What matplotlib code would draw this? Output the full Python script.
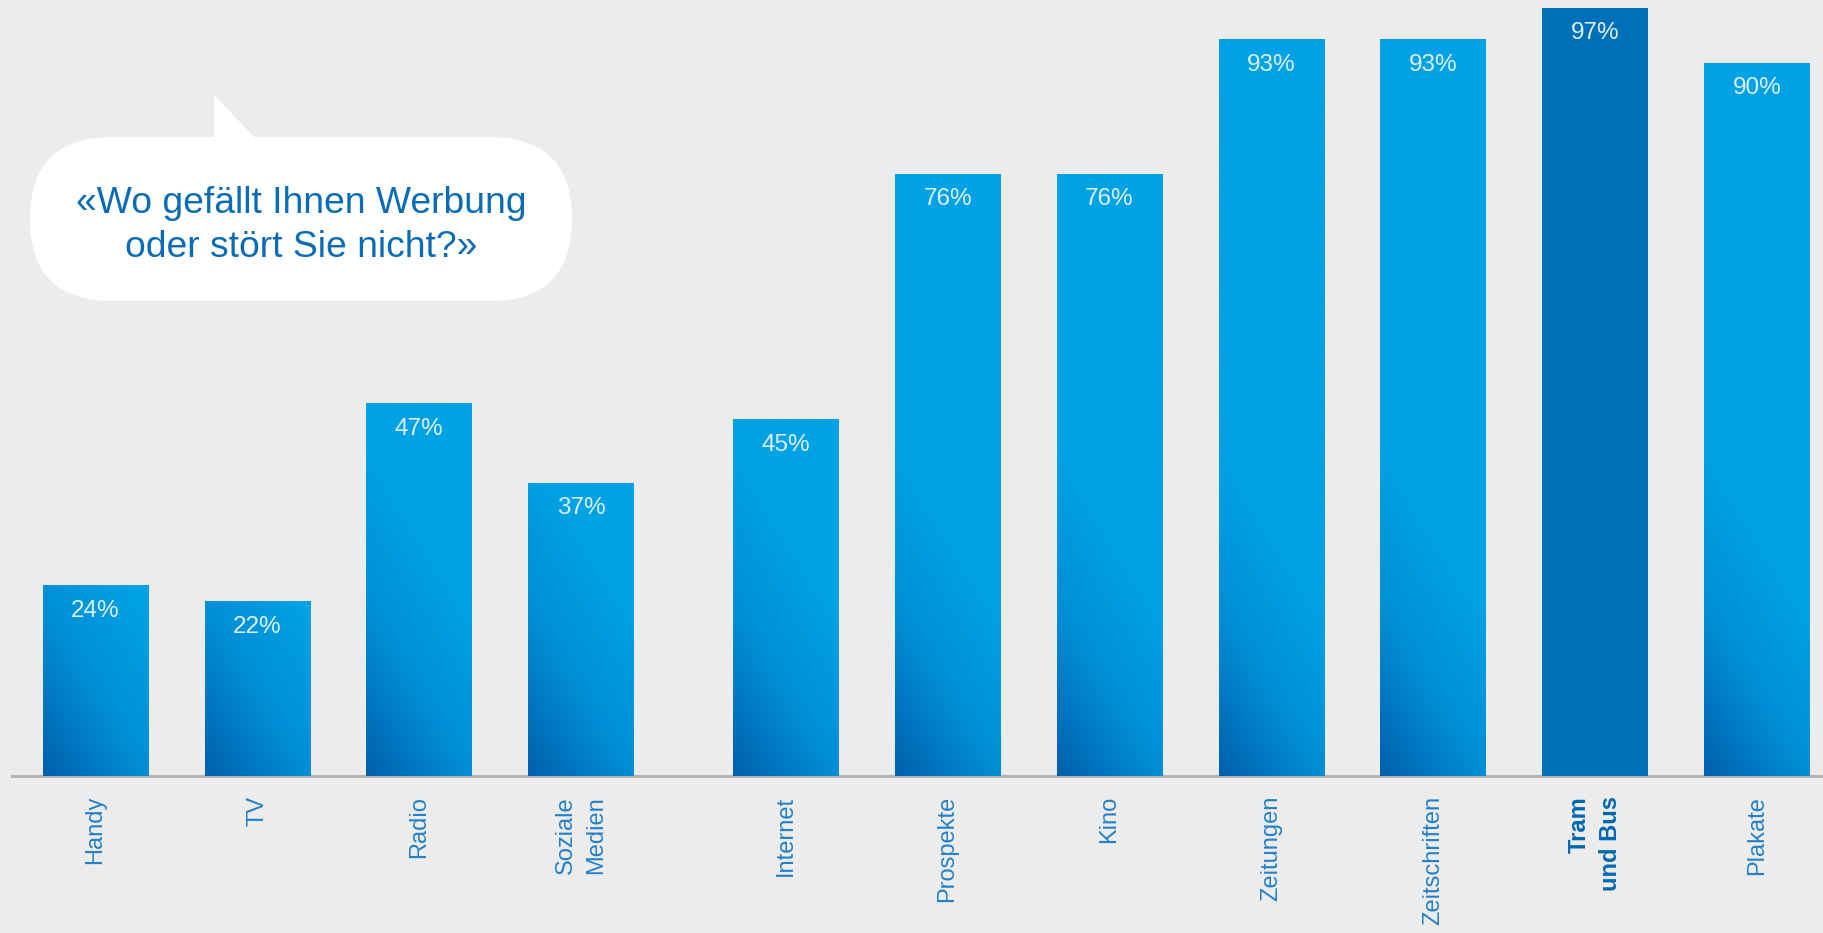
import numpy as np
import matplotlib
matplotlib.use('Agg')
import matplotlib.pyplot as plt
from matplotlib.colors import LinearSegmentedColormap
from matplotlib.patches import FancyBboxPatch, Polygon

plt.rcParams['font.family'] = ['Liberation Sans', 'DejaVu Sans']

# Daten
categories = ['Handy', 'TV', 'Radio', 'Soziale\nMedien', 'Internet', 'Prospekte',
              'Kino', 'Zeitungen', 'Zeitschriften', 'Tram\nund Bus', 'Plakate']
values = [24, 22, 47, 37, 45, 76, 76, 93, 93, 97, 90]
highlight = 'Tram\nund Bus'
question = ['«Wo gefällt Ihnen Werbung', 'oder stört Sie nicht?»']

bg = '#ececec'
fig = plt.figure(figsize=(18.24, 9.33), dpi=100, facecolor=bg)
ax = fig.add_axes([12 / 1824, 157 / 933, 1 - 12 / 1824, 776 / 933])
ax.set_facecolor(bg)

idx = np.arange(len(values))
x = idx * 0.999 + np.where(idx >= 4, 0.265, 0.0)   # Luecke nach "Soziale Medien"
w = 0.65
bars = ax.bar(x, values, width=w, color='none', edgecolor='none', zorder=2)

# Verlauf unten links dunkel -> oben rechts hell
cmap = LinearSegmentedColormap.from_list('blau', ['#0060ad', '#008ed5', '#00a2e5'])
for rect, cat in zip(bars, categories):
    x0, h = rect.get_x(), rect.get_height()
    if cat == highlight:
        rect.set_facecolor('#006fba')
        continue
    xx, yy = np.meshgrid(np.linspace(0, 1, 40), np.linspace(0, h, 300))
    t = np.clip(0.5 * xx + yy / 42.0, 0, 1)
    ax.imshow(t, extent=[x0, x0 + w, 0, h], origin='lower', cmap=cmap,
              vmin=0, vmax=1, aspect='auto', zorder=2, interpolation='bilinear')

for xi, v in zip(x, values):
    ax.annotate(f'{v}%', xy=(xi, v), xytext=(0, -25), textcoords='offset pixels',
                ha='center', va='center', color='#dcf0fa', fontsize=17.5, zorder=3)

for xi, cat in zip(x, categories):
    bold = cat == highlight
    ax.annotate(cat, xy=(xi, 0), xytext=(0, -20), textcoords='offset pixels',
                rotation=90, ha='center', va='top', multialignment='right',
                linespacing=1.45,
                fontsize=17, fontweight='bold' if bold else 'normal',
                color='#0068b2' if bold else '#2381c9', annotation_clip=False)

ax.set_xlim(-0.515, 10.67)
ax.set_ylim(0, 98)
for s in ['top', 'right', 'left']:
    ax.spines[s].set_visible(False)
ax.spines['bottom'].set_color('#b5b5b5')
ax.spines['bottom'].set_linewidth(2.2)
ax.spines['bottom'].set_zorder(1)
ax.set_xticks([])
ax.set_yticks([])

# Sprechblase (Pixelkoordinaten)
ov = fig.add_axes([0, 0, 1, 1])
ov.set_xlim(0, 1824)
ov.set_ylim(933, 0)
ov.axis('off')
ov.patch.set_alpha(0)
ov.add_patch(FancyBboxPatch((30, 137), 542, 164, boxstyle='round,pad=0,rounding_size=82',
                            fc='white', ec='none'))
ov.add_patch(Polygon([(214, 95), (214, 140), (257, 140)], closed=True, fc='white', ec='none'))
ov.text(301, 213, question[0], ha='center', va='baseline', fontsize=26.8, color='#0a6cb5')
ov.text(301, 257, question[1], ha='center', va='baseline', fontsize=26.8, color='#0a6cb5')

plt.savefig('out.png', dpi=100, facecolor=bg)
plt.close()
